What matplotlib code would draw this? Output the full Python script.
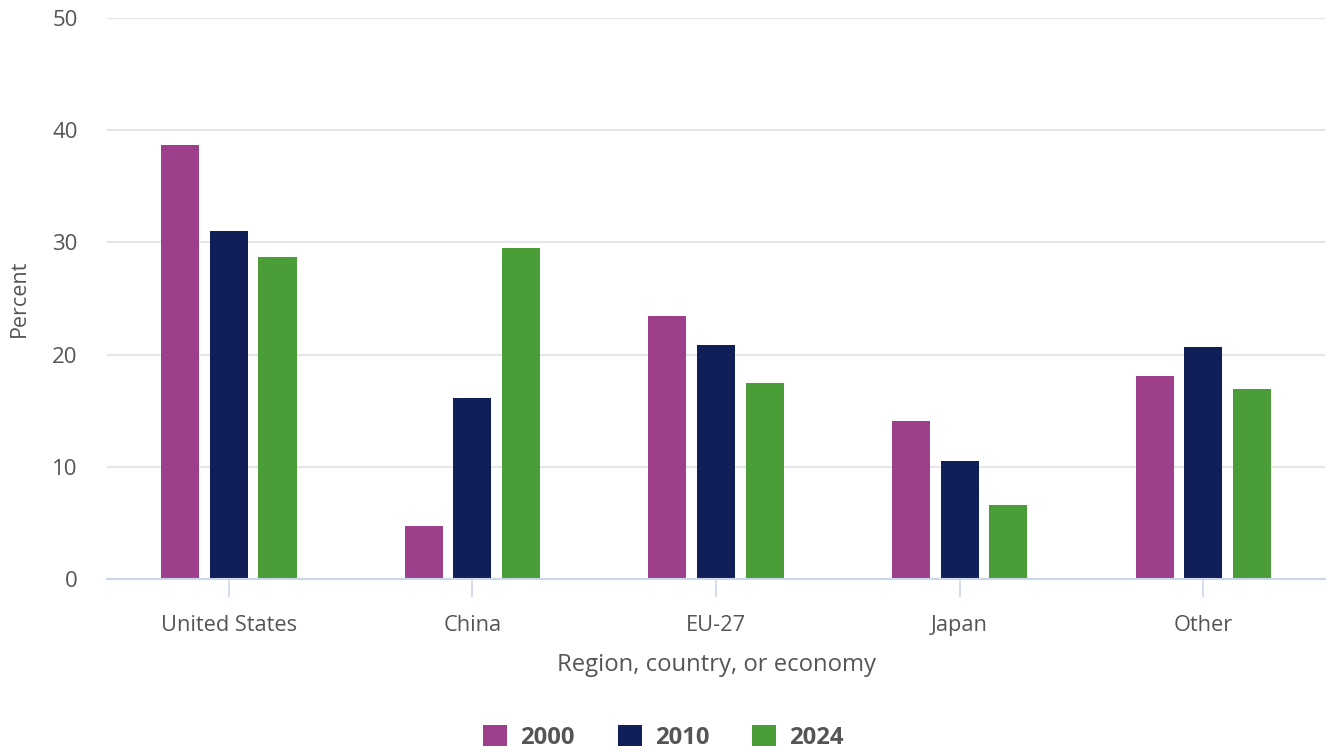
import numpy as np
import matplotlib.pyplot as plt
from matplotlib.patches import Patch

plt.rcParams['font.family'] = ['Open Sans', 'DejaVu Sans']

regions = ['United States', 'China', 'EU-27', 'Japan', 'Other']
years = ['2000', '2010', '2024']
share_2000 = [38.7, 4.7, 23.4, 14.1, 18.1]
share_2010 = [31.0, 16.1, 20.9, 10.5, 20.7]
share_2024 = [28.7, 29.5, 17.5, 6.6, 16.9]
colors = ['#9e3f8c', '#111f58', '#4b9e37']

fig = plt.figure(figsize=(13.27, 7.51), dpi=100)
ax = fig.add_axes([0.0806, 0.229, 0.918, 0.747])

x = np.arange(len(regions))
width = 0.156
offsets = [-0.2, 0.0, 0.2]
for vals, off, c in zip([share_2000, share_2010, share_2024], offsets, colors):
    ax.bar(x + off, vals, width, color=c, zorder=3)

ax.set_xlim(-0.5, len(regions) - 0.5)
ax.set_ylim(0, 50)
ax.set_yticks([0, 10, 20, 30, 40, 50])
ax.set_xticks(x)
ax.set_xticklabels(regions)

ax.grid(axis='y', color='#e6e6e6', linewidth=1.5, zorder=0)
for side in ['top', 'right', 'left']:
    ax.spines[side].set_visible(False)
ax.spines['bottom'].set_color('#ccd6eb')
ax.spines['bottom'].set_linewidth(1.5)
ax.spines['bottom'].set_zorder(4)

ax.tick_params(axis='y', length=0, labelsize=16, labelcolor='#555555', pad=21)
ax.tick_params(axis='x', length=13, width=1.2, color='#ccd6eb', labelsize=15.7,
               labelcolor='#555555', pad=13)

ax.set_ylabel('Percent', fontsize=15.5, color='#555555')
ax.yaxis.set_label_coords(-0.063, 0.5)
ax.set_xlabel('Region, country, or economy', fontsize=17.2, color='#555555', labelpad=12.5)

handles = [Patch(facecolor=c, label=y) for c, y in zip(colors, years)]
leg = fig.legend(handles=handles, loc='center', bbox_to_anchor=(0.5, 0.018),
                 ncol=3, frameon=False, handlelength=1.0, handleheight=1.0,
                 handletextpad=0.55, columnspacing=1.8,
                 prop={'size': 17.2, 'weight': 'bold'})
for t in leg.get_texts():
    t.set_color('#555555')

fig.savefig('out.png', dpi=100)
